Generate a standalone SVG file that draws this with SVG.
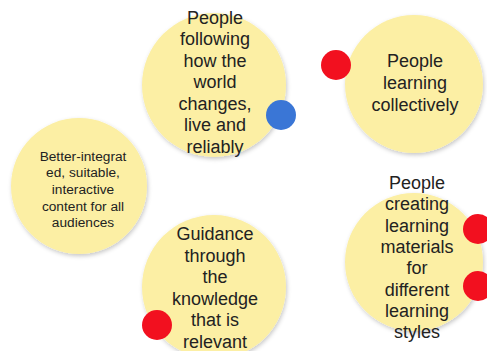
<svg xmlns="http://www.w3.org/2000/svg" width="487" height="351" viewBox="0 0 487 351">
<defs>
<filter id="sh" x="-20%" y="-20%" width="140%" height="140%">
<feDropShadow dx="1" dy="2" stdDeviation="2" flood-color="#000" flood-opacity="0.22"/>
</filter>
</defs>
<style>
.c{fill:#fcefa4;filter:url(#sh)}
.t{font-family:"Liberation Sans",Arial,sans-serif;font-size:18px;fill:#222;text-anchor:middle}
.s{font-size:13.7px}
.r{fill:#f2101f}
.b{fill:#3a76d6}
</style>
<rect width="487" height="351" fill="#fff"/>
<g id="n1">
<circle class="c" cx="214" cy="85" r="72"/>
<text class="t"><tspan x="215" y="23.5">People</tspan><tspan x="215" y="45">following</tspan><tspan x="215" y="66.6">how the</tspan><tspan x="215" y="88.2">world</tspan><tspan x="215" y="109.8">changes,</tspan><tspan x="215" y="131.4">live and</tspan><tspan x="215" y="153">reliably</tspan></text>
</g>
<g id="n2">
<circle class="c" cx="414" cy="84" r="69"/>
<text class="t"><tspan x="415" y="67">People</tspan><tspan x="415" y="89">learning</tspan><tspan x="415" y="111">collectively</tspan></text>
</g>
<g id="n3">
<circle class="c" cx="79" cy="186" r="68"/>
<text class="t s"><tspan x="83" y="160.7">Better-integrat</tspan><tspan x="83" y="177.3">ed, suitable,</tspan><tspan x="83" y="193.9">interactive</tspan><tspan x="83" y="210.5">content for all</tspan><tspan x="83" y="227.1">audiences</tspan></text>
</g>
<g id="n4">
<circle class="c" cx="214" cy="287" r="72"/>
<text class="t"><tspan x="215" y="240">Guidance</tspan><tspan x="215" y="261.6">through</tspan><tspan x="215" y="283.2">the</tspan><tspan x="215" y="304.8">knowledge</tspan><tspan x="215" y="326.4">that is</tspan><tspan x="215" y="348">relevant</tspan></text>
</g>
<g id="n5">
<circle class="c" cx="414" cy="262" r="69"/>
<text class="t"><tspan x="417" y="189">People</tspan><tspan x="417" y="210.3">creating</tspan><tspan x="417" y="231.6">learning</tspan><tspan x="417" y="252.9">materials</tspan><tspan x="417" y="274.2">for</tspan><tspan x="417" y="295.5">different</tspan><tspan x="417" y="316.8">learning</tspan><tspan x="417" y="338">styles</tspan></text>
</g>
<g id="dots">
<circle class="b" cx="281" cy="115" r="15"/>
<circle class="r" cx="336" cy="65" r="15"/>
<circle class="r" cx="157" cy="325" r="15"/>
<circle class="r" cx="478" cy="229" r="15"/>
<circle class="r" cx="478" cy="286" r="15"/>
</g>
<g id="connectors"></g>
</svg>
